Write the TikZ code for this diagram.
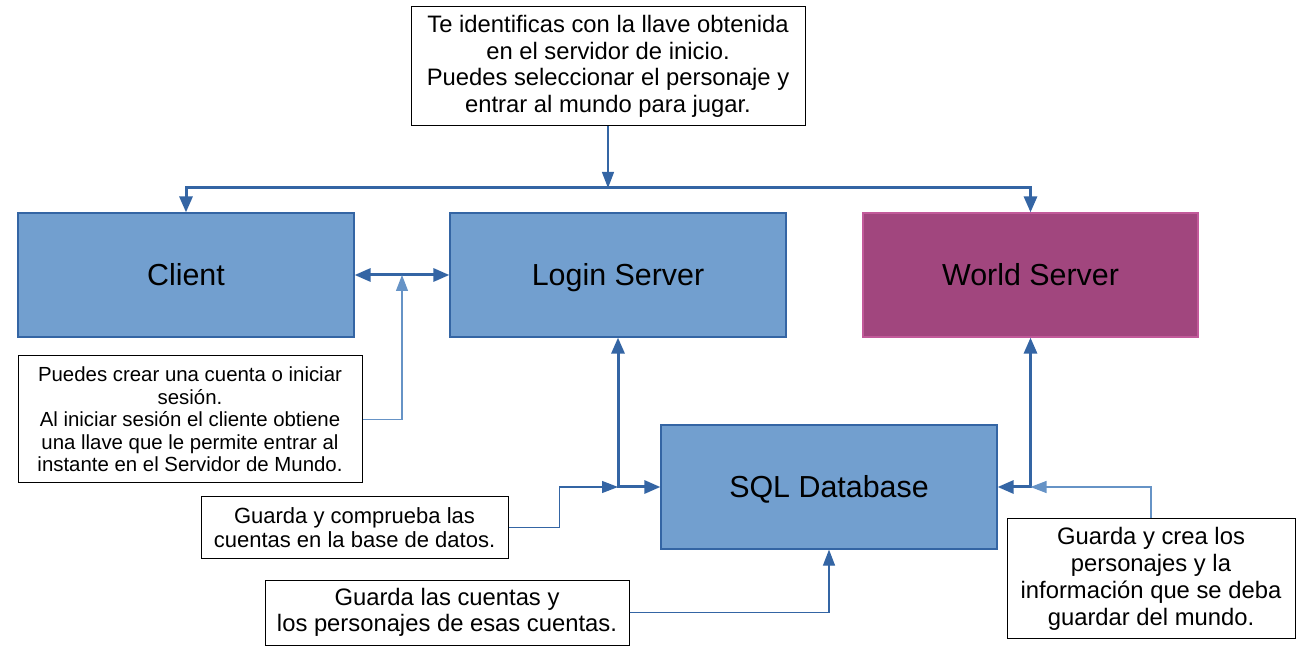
\documentclass[tikz,border=0pt]{standalone}
\usepackage{fontspec}
\setmainfont{Liberation Sans}
\usetikzlibrary{arrows.meta}

\definecolor{boxblue}{HTML}{729FCF}
\definecolor{edgeblue}{HTML}{3465A4}
\definecolor{boxpurple}{HTML}{A1467E}
\definecolor{edgepurple}{HTML}{C25A9A}

\tikzset{
  server/.style={draw=edgeblue, fill=boxblue, line width=0.6pt, inner sep=0pt,
    minimum width=168pt, minimum height=62pt, text height=11pt, text depth=0.2pt,
    font=\fontsize{15.2}{18}\selectfont},
  notebox/.style={draw=black, fill=white, line width=0.5pt, inner sep=0pt, align=center},
  thickline/.style={draw=edgeblue, line width=1.5pt, {Triangle[length=8pt,width=6.5pt]}-{Triangle[length=8pt,width=6.5pt]}},
  thinline/.style={draw=edgeblue, line width=0.6pt, -{Triangle[length=8pt,width=6pt]}},
}

\begin{document}
\begin{tikzpicture}[x=0.5pt,y=-0.5pt]
	\useasboundingbox (0,0) rectangle (1300,651);

	%Shape: Rectangle [servers]
	\node [server] (client) at (186,275) {Client};
	\node [server] (login) at (618,275) {Login Server};
	\node [server, draw=edgepurple, fill=boxpurple, minimum width=167.5pt] (world) at (1030.5,275) {World Server};
	\node [server] (sql) at (829,487) {SQL Database};

	% Text Node
	\node [notebox, minimum width=197pt, minimum height=59.5pt, font=\fontsize{11.9}{13.3}\selectfont] (intro) at (608,66.5)
	  {Te identificas con la llave obtenida\\en el servidor de inicio.\\Puedes seleccionar el personaje y\\entrar al mundo para jugar.};
	% Text Node
	\node [notebox, minimum width=172pt, minimum height=63.5pt, font=\fontsize{10.2}{11.25}\selectfont] (account) at (190,419.5)
	  {Puedes crear una cuenta o iniciar\\sesión.\\Al iniciar sesión el cliente obtiene\\una llave que le permite entrar al\\instante en el Servidor de Mundo.};
	% Text Node
	\node [notebox, minimum width=153.5pt, minimum height=30.5pt, font=\fontsize{11}{12}\selectfont] (check) at (354.5,527.5)
	  {Guarda y comprueba las\\cuentas en la base de datos.};
	% Text Node
	\node [notebox, minimum width=182pt, minimum height=32.5pt, font=\fontsize{11.9}{13}\selectfont] (store) at (447,612.5)
	  {Guarda las cuentas y\\los personajes de esas cuentas.};
	% Text Node
	\node [notebox, minimum width=144pt, minimum height=59.5pt, font=\fontsize{11.9}{13.5}\selectfont] (create) at (1151,578.5)
	  {Guarda y crea los\\personajes y la\\información que se deba\\guardar del mundo.};

	\coordinate (split) at (608,188);
	\coordinate (link) at (402,275);

	%Straight Lines [intro to servers]
	\draw [thinline] (intro.south) -- (split);
	\draw [thickline] (client.north) |- (split) -| (world.north);
	%Straight Lines [client and login]
	\draw [thickline] (client.east) -- (login.west);
	\draw [thinline, draw=boxblue!80!edgeblue] (account.east) -| (link);
	%Straight Lines [login and database]
	\draw [thickline] (login.south) |- (sql.west);
	\draw [thinline] (check.east) -- ++(51,0) |- (login.south |- sql.west);
	%Straight Lines [world and database]
	\draw [thickline] (world.south) |- (sql.east);
	\draw [thinline, draw=boxblue!80!edgeblue] (create.north) |- (world.south |- sql.east);
	%Straight Lines [store to database]
	\draw [thinline] (store.east) -| (sql.south);

\end{tikzpicture}
\end{document}
